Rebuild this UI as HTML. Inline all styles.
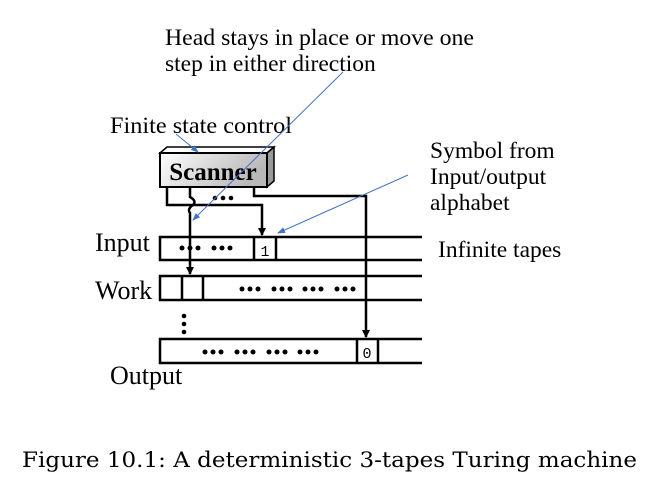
<!DOCTYPE html>
<html><head><style>
html,body{margin:0;padding:0;background:#fff;}
svg{display:block;}
text{font-family:"Liberation Serif",serif;fill:#000;}
</style></head><body>
<svg width="661" height="484" viewBox="0 0 661 484" xmlns="http://www.w3.org/2000/svg">
<defs>
<linearGradient id="g" x1="0" y1="0" x2="1" y2="0.3">
<stop offset="0" stop-color="#fff"/><stop offset="1" stop-color="#b8b8b8"/></linearGradient>
<marker id="ab" markerWidth="8" markerHeight="8" refX="7" refY="4" orient="auto" markerUnits="userSpaceOnUse">
<path d="M0,0 L8,4 L0,8 z" fill="#000"/></marker>
<marker id="bl" markerWidth="8" markerHeight="8" refX="7" refY="4" orient="auto" markerUnits="userSpaceOnUse">
<path d="M0,1 L8,4 L0,7 z" fill="#4472c4"/></marker>
</defs>
<text x="165" y="45" font-size="23.5" textLength="309" lengthAdjust="spacingAndGlyphs">Head stays in place or move one</text>
<text x="165" y="71" font-size="23.5">step in either direction</text>
<text x="110" y="133" font-size="23.5" textLength="182" lengthAdjust="spacingAndGlyphs">Finite state control</text>
<text x="430" y="158" font-size="23.5">Symbol from</text>
<text x="430" y="184" font-size="23.5">Input/output</text>
<text x="430" y="210" font-size="23.5">alphabet</text>
<text x="438" y="257" font-size="23.5">Infinite tapes</text>
<text x="95" y="251" font-size="26">Input</text>
<text x="95" y="299" font-size="26">Work</text>
<text x="110" y="384" font-size="26">Output</text>
<!-- scanner -->
<path d="M160,153 L167,147 L274,147 L267,153 Z" fill="#fff" stroke="#000" stroke-width="1.5"/>
<path d="M267,153 L274,147 L274,181 L267,187 Z" fill="#999" stroke="#000" stroke-width="1.5"/>
<rect x="160" y="153" width="107" height="34" fill="url(#g)" stroke="#000" stroke-width="2"/>
<text x="213" y="180" font-size="25" font-weight="bold" text-anchor="middle">Scanner</text>
<!-- connectors -->
<g stroke="#000" stroke-width="2.5" fill="none">
<path d="M167,187 L167,205 L262,205 L262,235" marker-end="url(#ab)"/>
<path d="M190,187 L190,197 Q197,201 193,205 Q187,209 190,213 L190,274" marker-end="url(#ab)"/>
<path d="M254,187 L254,196 L366,196 L366,337" marker-end="url(#ab)"/>
</g>
<g fill="#000">
<circle cx="215" cy="198" r="2.3"/><circle cx="223" cy="198" r="2.3"/><circle cx="231" cy="198" r="2.3"/>
</g>
<!-- tapes -->
<g stroke="#000" stroke-width="2.5" fill="none">
<path d="M422,237 L160,237 L160,260 L422,260"/>
<path d="M254,237 L254,260 M276,237 L276,260"/>
<path d="M422,276 L160,276 L160,300 L422,300"/>
<path d="M182,276 L182,300 M203,276 L203,300"/>
<path d="M422,339 L160,339 L160,363 L422,363"/>
<path d="M357,339 L357,363 M378,339 L378,363"/>
</g>
<text x="265" y="256" font-size="15" text-anchor="middle" style="font-family:'Liberation Mono',monospace">1</text>
<text x="367" y="358" font-size="15" text-anchor="middle" style="font-family:'Liberation Mono',monospace">0</text>
<g fill="#000">
<circle cx="182" cy="248" r="2.5"/><circle cx="190" cy="248" r="2.5"/><circle cx="198" cy="248" r="2.5"/>
<circle cx="214" cy="248" r="2.5"/><circle cx="222" cy="248" r="2.5"/><circle cx="230" cy="248" r="2.5"/>
<circle cx="242" cy="289" r="2.5"/><circle cx="250" cy="289" r="2.5"/><circle cx="258" cy="289" r="2.5"/>
<circle cx="274" cy="289" r="2.5"/><circle cx="282" cy="289" r="2.5"/><circle cx="290" cy="289" r="2.5"/>
<circle cx="305" cy="289" r="2.5"/><circle cx="313" cy="289" r="2.5"/><circle cx="321" cy="289" r="2.5"/>
<circle cx="337" cy="289" r="2.5"/><circle cx="345" cy="289" r="2.5"/><circle cx="353" cy="289" r="2.5"/>
<circle cx="205" cy="352" r="2.5"/><circle cx="213" cy="352" r="2.5"/><circle cx="221" cy="352" r="2.5"/>
<circle cx="237" cy="352" r="2.5"/><circle cx="245" cy="352" r="2.5"/><circle cx="253" cy="352" r="2.5"/>
<circle cx="269" cy="352" r="2.5"/><circle cx="277" cy="352" r="2.5"/><circle cx="285" cy="352" r="2.5"/>
<circle cx="300" cy="352" r="2.5"/><circle cx="308" cy="352" r="2.5"/><circle cx="316" cy="352" r="2.5"/>
<circle cx="184" cy="316" r="2.3"/><circle cx="184" cy="324" r="2.3"/><circle cx="184" cy="332" r="2.3"/>
</g>
<!-- blue arrows -->
<g stroke="#4472c4" stroke-width="1" fill="none">
<path d="M343,72 L193,220" marker-end="url(#bl)"/>
<path d="M408,175 L278,233" marker-end="url(#bl)"/>
<path d="M176,134 L198,152" marker-end="url(#bl)"/>
</g>
<text x="22" y="467" font-size="21" style="font-family:'DejaVu Serif','Liberation Serif',serif" textLength="615" lengthAdjust="spacingAndGlyphs">Figure 10.1: A deterministic 3-tapes Turing machine</text>
</svg>
</body></html>
